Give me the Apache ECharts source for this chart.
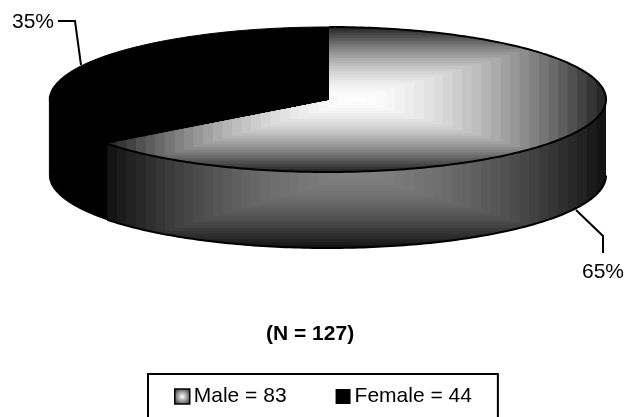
<!DOCTYPE html>
<html>
<head>
<meta charset="utf-8">
<style>
  html, body { margin: 0; padding: 0; background: #fff; overflow: hidden; }
  #chart { width: 633px; height: 417px; }
</style>
<script src="https://cdn.jsdelivr.net/npm/echarts@6/dist/echarts.min.js"></script>
</head>
<body>
<div id="chart"></div>
<script>
const categories = ['Male', 'Female']
const counts = [83, 44]
const shares = [65, 35]
const shareLabels = ['65%', '35%']
const sampleTitle = '(N = 127)'

const FONT = '"Liberation Sans", Arial, sans-serif'
const TWO_PI = Math.PI * 2

// disc geometry in page pixels
const disc = { cx: 327.7, cy: 99.5, rx: 278.3, ry: 72.5, depth: 76, apexX: 329, apexY: 100.5 }
const BANDS = 26
// the original's perspective pulls the slice boundaries slightly off the plain ellipse angle
const START_SKEW = 0.005
const SPLIT_SKEW = -0.028

const legendNames = categories.map((name, i) => `${name} = ${counts[i]}`)

const rimPoint = (angle, drop) => [
  disc.cx + disc.rx * Math.sin(angle),
  disc.cy + drop - disc.ry * Math.cos(angle)
]

const arcPoints = (from, to, drop) => {
  const steps = Math.max(2, Math.ceil(Math.abs(to - from) * 60))
  const points = []
  for (let i = 0; i <= steps; i++) {
    points.push(rimPoint(from + (to - from) * i / steps, drop))
  }
  return points
}

// slice start and end angles, clockwise from 12 o'clock
const sliceAngles = index => {
  const total = shares.reduce((a, b) => a + b, 0)
  const split = shares[0] / total * TWO_PI + SPLIT_SKEW
  return index === 0 ? [START_SKEW, split] : [split, TWO_PI + START_SKEW]
}

const gray = v => {
  const c = Math.round(v)
  return `rgb(${c},${c},${c})`
}

// concentric rectangles, the way the path gradient of the original bands
const bandRects = (box, edge, middle) => {
  const rects = []
  const midX = (box.left + box.right) / 2
  const midY = (box.top + box.bottom) / 2
  for (let i = 0; i < BANDS; i++) {
    const scale = 1 - i / BANDS
    const hw = (box.right - box.left) / 2 * scale
    const hh = (box.bottom - box.top) / 2 * scale
    rects.push({
      type: 'rect',
      shape: { x: midX - hw, y: midY - hh, width: hw * 2, height: hh * 2 },
      style: { fill: gray(edge + (middle - edge) * (1 - Math.pow(scale, 1.7))) }
    })
  }
  return rects
}

const renderMale = () => {
  const [start, end] = sliceAngles(0)
  const rim = arcPoints(start, end, 0)
  const frontFrom = Math.PI / 2
  const box = { left: rim[rim.length - 1][0], right: disc.cx + disc.rx, top: disc.cy - disc.ry, bottom: disc.cy + disc.ry }
  const topFace = [[disc.apexX, disc.apexY], ...rim]
  const sideUpper = arcPoints(frontFrom, end, 0)
  const sideLower = arcPoints(end, frontFrom, disc.depth)
  const sideFace = [...sideUpper, ...sideLower]
  const sideBox = { left: box.left, right: box.right, top: disc.cy, bottom: disc.cy + disc.ry + disc.depth }
  return {
    type: 'group',
    children: [
      {
        type: 'group',
        clipPath: { type: 'polygon', shape: { points: sideFace } },
        children: bandRects(sideBox, 20, 128)
      },
      {
        type: 'group',
        clipPath: { type: 'polygon', shape: { points: topFace } },
        children: bandRects(box, 40, 255)
      },
      {
        type: 'polyline',
        shape: { points: rim },
        style: { fill: null, stroke: '#000', lineWidth: 2 }
      },
      {
        type: 'polyline',
        shape: { points: sideLower },
        style: { fill: null, stroke: '#000', lineWidth: 2 }
      }
    ]
  }
}

const renderFemale = () => {
  const [start, end] = sliceAngles(1)
  const rim = arcPoints(start, end, 0)
  // wall runs a little under the male side and up into the top face so no seam shows
  const wallFrom = start - 0.06
  const wall = [...arcPoints(wallFrom, 1.5 * Math.PI, -3), ...arcPoints(1.5 * Math.PI, wallFrom, disc.depth)]
  const faceStyle = { fill: '#000', stroke: '#000', lineWidth: 1 }
  return {
    type: 'group',
    children: [
      { type: 'polygon', shape: { points: [[disc.apexX, disc.apexY], ...rim] }, style: faceStyle },
      { type: 'polygon', shape: { points: wall }, style: faceStyle }
    ]
  }
}

const leader = (points, text, labelX, labelY) => ({
  type: 'group',
  silent: true,
  children: [
    { type: 'polyline', shape: { points }, style: { fill: null, stroke: '#000', lineWidth: 2 } },
    { type: 'text', style: { x: labelX, y: labelY, text, fill: '#000', font: `21px ${FONT}`, textAlign: 'center', textVerticalAlign: 'middle' } }
  ]
})

// male icon: light middle fading out to a dark frame
const maleIcon = {
  type: 'radial', x: 0.5, y: 0.5, r: 0.6,
  colorStops: [{ offset: 0, color: '#fff' }, { offset: 1, color: '#333' }]
}

const chart = echarts.init(document.getElementById('chart'), null, { renderer: 'canvas' })

chart.setOption({
  animation: false,
  backgroundColor: '#fff',
  title: {
    text: sampleTitle,
    left: 261,
    top: 318,
    textStyle: { fontFamily: FONT, fontSize: 21, fontWeight: 'bold', color: '#000', lineHeight: 22 }
  },
  legend: {
    data: [
      { name: legendNames[0], icon: 'rect', itemStyle: { color: maleIcon, borderColor: '#000', borderWidth: 1.5 } },
      { name: legendNames[1], icon: 'rect', itemStyle: { color: '#000' } }
    ],
    left: 148,
    top: 374,
    // bottom edge of the frame is cut off by the page, as in the original
    padding: [12, 26, 30, 26],
    borderColor: '#000',
    borderWidth: 2,
    itemWidth: 15,
    itemHeight: 15,
    itemGap: 49,
    selectedMode: false,
    textStyle: { fontFamily: FONT, fontSize: 21, color: '#000', padding: [0, 0, 0, -1] }
  },
  series: [
    {
      name: legendNames[1],
      type: 'custom',
      coordinateSystem: 'none',
      silent: true,
      data: [counts[1]],
      itemStyle: { color: '#000' },
      renderItem: renderFemale,
      z: 2
    },
    {
      name: legendNames[0],
      type: 'custom',
      coordinateSystem: 'none',
      silent: true,
      data: [counts[0]],
      itemStyle: { color: '#888' },
      renderItem: renderMale,
      z: 3
    }
  ],
  graphic: [
    leader([[81, 65], [75, 21], [58, 21]], shareLabels[1], 33, 22),
    leader([[576, 210], [603, 236], [603, 253]], shareLabels[0], 603, 272)
  ]
})
</script>
</body>
</html>
